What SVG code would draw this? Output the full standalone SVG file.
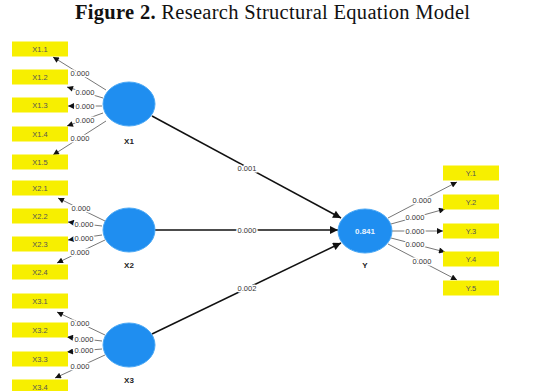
<svg xmlns="http://www.w3.org/2000/svg" width="543" height="391" viewBox="0 0 543 391">
<style>
.box{fill:#f7ef00}
.bt{font-family:"Liberation Sans",Arial,sans-serif;font-size:7.5px;fill:#555;text-anchor:middle;dominant-baseline:central}
.lv{font-family:"Liberation Sans",Arial,sans-serif;font-size:7.5px;fill:#333;text-anchor:middle;dominant-baseline:central;paint-order:stroke;stroke:#fff;stroke-width:3px}
.nl{font-family:"Liberation Sans",Arial,sans-serif;font-size:8px;font-weight:bold;fill:#222;text-anchor:middle;dominant-baseline:central}
.el{fill:#1f8ef0;stroke:#4aa8f5;stroke-width:1}
.ld{stroke:#777;stroke-width:1;fill:none;marker-end:url(#ah)}
.st{stroke:#111;stroke-width:1.5;fill:none;marker-end:url(#ahb)}
.title{font-family:"Liberation Serif","Times New Roman",serif;font-size:20.5px;fill:#111}
</style>
<defs>
<marker id="ah" viewBox="0 0 10 10" refX="10" refY="5" markerWidth="7" markerHeight="6" markerUnits="userSpaceOnUse" orient="auto"><path d="M0,0L10,5L0,10z" fill="#111"/></marker>
<marker id="ahb" viewBox="0 0 10 10" refX="10" refY="5" markerWidth="10" markerHeight="8" markerUnits="userSpaceOnUse" orient="auto"><path d="M0,0L10,5L0,10z" fill="#111"/></marker>
</defs>
<rect width="543" height="391" fill="#fff"/>
<text class="title" x="75" y="19" textLength="395" lengthAdjust="spacing"><tspan font-weight="bold">Figure 2.</tspan> Research Structural Equation Model</text>

<g id="connectors">
<path class="ld" d="M106,90L53,57"/>
<path class="ld" d="M103,98L67,87"/>
<path class="ld" d="M102,106L68,106"/>
<path class="ld" d="M103,113L67,126"/>
<path class="ld" d="M106,121L53,155"/>
<path class="ld" d="M105,221L58,198"/>
<path class="ld" d="M102,226L68,222"/>
<path class="ld" d="M102,235L68,240"/>
<path class="ld" d="M105,240L57,263"/>
<path class="ld" d="M105,335L57,312"/>
<path class="ld" d="M102,341L67,337"/>
<path class="ld" d="M102,349L67,352"/>
<path class="ld" d="M105,355L55,378"/>
<path class="ld" d="M388,218L457,182"/>
<path class="ld" d="M391,224L445,209"/>
<path class="ld" d="M392,231L443,231"/>
<path class="ld" d="M391,238L445,252"/>
<path class="ld" d="M388,244L457,280"/>
<path class="st" d="M152,116L341,218"/>
<path class="st" d="M155,230L338,230"/>
<path class="st" d="M152,334L341,243"/>
<text class="lv" x="80" y="73">0.000</text>
<text class="lv" x="85" y="92">0.000</text>
<text class="lv" x="85" y="106">0.000</text>
<text class="lv" x="85" y="120">0.000</text>
<text class="lv" x="80" y="138">0.000</text>
<text class="lv" x="81" y="208">0.000</text>
<text class="lv" x="84" y="224">0.000</text>
<text class="lv" x="84" y="238">0.000</text>
<text class="lv" x="80" y="252">0.000</text>
<text class="lv" x="80" y="323">0.000</text>
<text class="lv" x="84" y="339">0.000</text>
<text class="lv" x="84" y="350">0.000</text>
<text class="lv" x="80" y="366">0.000</text>
<text class="lv" x="422" y="200">0.000</text>
<text class="lv" x="415" y="217">0.000</text>
<text class="lv" x="415" y="231">0.000</text>
<text class="lv" x="415" y="244">0.000</text>
<text class="lv" x="422" y="261">0.000</text>
<text class="lv" x="247" y="168">0.001</text>
<text class="lv" x="247" y="230">0.000</text>
<text class="lv" x="247" y="288">0.002</text>
</g>

<g id="X1"><ellipse class="el" cx="129" cy="104" rx="26" ry="22"/><text class="nl" x="129" y="141">X1</text></g>
<g id="X2"><ellipse class="el" cx="129" cy="230" rx="26" ry="22"/><text class="nl" x="129" y="265">X2</text></g>
<g id="X3"><ellipse class="el" cx="129" cy="345" rx="26" ry="22"/><text class="nl" x="129" y="380">X3</text></g>
<g id="Y"><ellipse class="el" cx="365" cy="231" rx="27" ry="22"/><text class="nl" x="365" y="231" style="fill:#e8f4ff">0.841</text><text class="nl" x="365" y="265">Y</text></g>

<g id="X1.1"><rect class="box" x="12" y="41.5" width="56" height="15"/><text class="bt" x="40" y="49">X1.1</text></g>
<g id="X1.2"><rect class="box" x="12" y="69.5" width="56" height="15"/><text class="bt" x="40" y="77">X1.2</text></g>
<g id="X1.3"><rect class="box" x="12" y="97.5" width="56" height="15"/><text class="bt" x="40" y="105">X1.3</text></g>
<g id="X1.4"><rect class="box" x="12" y="126.5" width="56" height="15"/><text class="bt" x="40" y="134">X1.4</text></g>
<g id="X1.5"><rect class="box" x="12" y="154.5" width="56" height="15"/><text class="bt" x="40" y="162">X1.5</text></g>
<g id="X2.1"><rect class="box" x="12" y="180.5" width="56" height="15"/><text class="bt" x="40" y="188">X2.1</text></g>
<g id="X2.2"><rect class="box" x="12" y="208.5" width="56" height="15"/><text class="bt" x="40" y="216">X2.2</text></g>
<g id="X2.3"><rect class="box" x="12" y="236.5" width="56" height="15"/><text class="bt" x="40" y="244">X2.3</text></g>
<g id="X2.4"><rect class="box" x="12" y="264.5" width="56" height="15"/><text class="bt" x="40" y="272">X2.4</text></g>
<g id="X3.1"><rect class="box" x="12" y="293.5" width="56" height="15"/><text class="bt" x="40" y="301">X3.1</text></g>
<g id="X3.2"><rect class="box" x="12" y="322.5" width="56" height="15"/><text class="bt" x="40" y="330">X3.2</text></g>
<g id="X3.3"><rect class="box" x="12" y="351.5" width="56" height="15"/><text class="bt" x="40" y="359">X3.3</text></g>
<g id="X3.4"><rect class="box" x="12" y="379.5" width="56" height="15"/><text class="bt" x="40" y="387">X3.4</text></g>
<g id="Y.1"><rect class="box" x="443" y="165.5" width="56" height="15"/><text class="bt" x="471" y="173">Y.1</text></g>
<g id="Y.2"><rect class="box" x="443" y="194.5" width="56" height="15"/><text class="bt" x="471" y="202">Y.2</text></g>
<g id="Y.3"><rect class="box" x="443" y="223.5" width="56" height="15"/><text class="bt" x="471" y="231">Y.3</text></g>
<g id="Y.4"><rect class="box" x="443" y="251.5" width="56" height="15"/><text class="bt" x="471" y="259">Y.4</text></g>
<g id="Y.5"><rect class="box" x="443" y="280.5" width="56" height="15"/><text class="bt" x="471" y="288">Y.5</text></g>
</svg>
